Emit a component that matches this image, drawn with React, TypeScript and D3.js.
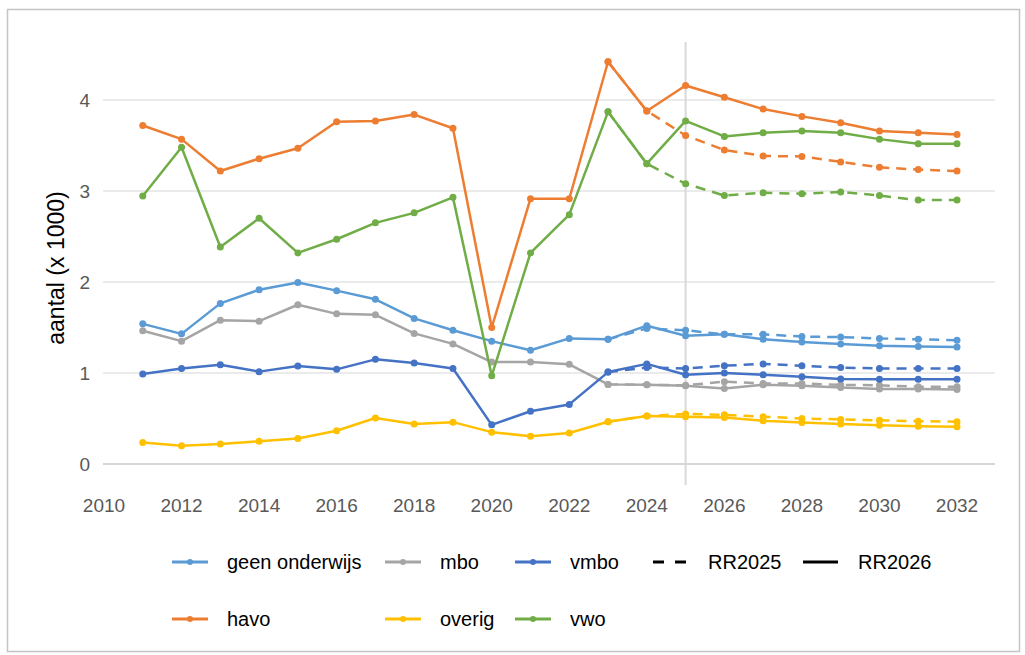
import React from "react";
import * as d3 from "d3";

// realised + RR2026 forecast, 2011..2032
const years = [2011, 2012, 2013, 2014, 2015, 2016, 2017, 2018, 2019, 2020, 2021, 2022, 2023, 2024, 2025, 2026, 2027, 2028, 2029, 2030, 2031, 2032];
// RR2025 forecast, 2023..2032
const yearsRR2025 = [2023, 2024, 2025, 2026, 2027, 2028, 2029, 2030, 2031, 2032];

const geenOnderwijs = [1.54, 1.43, 1.765, 1.915, 1.995, 1.905, 1.81, 1.6, 1.47, 1.35, 1.25, 1.38, 1.37, 1.52, 1.41, 1.425, 1.37, 1.34, 1.32, 1.3, 1.29, 1.285];
const mbo = [1.465, 1.35, 1.58, 1.57, 1.75, 1.65, 1.64, 1.435, 1.32, 1.12, 1.12, 1.095, 0.875, 0.87, 0.86, 0.83, 0.87, 0.86, 0.84, 0.825, 0.825, 0.82];
const vmbo = [0.99, 1.05, 1.09, 1.015, 1.077, 1.04, 1.15, 1.11, 1.05, 0.43, 0.58, 0.655, 1.01, 1.1, 0.98, 1.0, 0.98, 0.96, 0.935, 0.93, 0.93, 0.93];
const havo = [3.72, 3.57, 3.22, 3.355, 3.47, 3.76, 3.77, 3.84, 3.69, 1.5, 2.915, 2.915, 4.42, 3.88, 4.16, 4.03, 3.9, 3.82, 3.75, 3.66, 3.64, 3.62];
const overig = [0.235, 0.2, 0.22, 0.25, 0.28, 0.365, 0.505, 0.44, 0.46, 0.35, 0.305, 0.34, 0.465, 0.527, 0.52, 0.51, 0.475, 0.455, 0.44, 0.425, 0.415, 0.41];
const vwo = [2.945, 3.48, 2.385, 2.7, 2.32, 2.47, 2.65, 2.76, 2.93, 0.97, 2.32, 2.74, 3.87, 3.3, 3.77, 3.6, 3.64, 3.66, 3.64, 3.57, 3.52, 3.52];

const geenOnderwijsRR2025 = [1.37, 1.49, 1.47, 1.425, 1.425, 1.4, 1.395, 1.38, 1.37, 1.36];
const mboRR2025 = [0.875, 0.87, 0.865, 0.905, 0.885, 0.885, 0.87, 0.865, 0.85, 0.85];
const vmboRR2025 = [1.01, 1.06, 1.05, 1.08, 1.1, 1.08, 1.06, 1.05, 1.05, 1.05];
const havoRR2025 = [4.42, 3.88, 3.61, 3.45, 3.385, 3.38, 3.32, 3.26, 3.235, 3.22];
const overigRR2025 = [0.465, 0.527, 0.55, 0.54, 0.52, 0.5, 0.49, 0.48, 0.47, 0.465];
const vwoRR2025 = [3.87, 3.3, 3.08, 2.95, 2.98, 2.97, 2.99, 2.95, 2.9, 2.9];

const xTicks = [2010, 2012, 2014, 2016, 2018, 2020, 2022, 2024, 2026, 2028, 2030, 2032];
const yTicks = [0, 1, 2, 3, 4];

const series = [
  { name: "geen onderwijs", color: "#5B9BD5", rr2026: geenOnderwijs, rr2025: geenOnderwijsRR2025 },
  { name: "mbo", color: "#A5A5A5", rr2026: mbo, rr2025: mboRR2025 },
  { name: "vmbo", color: "#4472C4", rr2026: vmbo, rr2025: vmboRR2025 },
  { name: "havo", color: "#ED7D31", rr2026: havo, rr2025: havoRR2025 },
  { name: "overig", color: "#FFC000", rr2026: overig, rr2025: overigRR2025 },
  { name: "vwo", color: "#70AD47", rr2026: vwo, rr2025: vwoRR2025 },
];

const FONT = "'Liberation Sans', Arial, sans-serif";

export default function App() {
  const width = 1025;
  const height = 655;

  const x = d3.scaleLinear().domain([2010, 2032]).range([104, 957]);
  const y = d3.scaleLinear().domain([0, 4]).range([464, 100]);

  const line = d3
    .line<[number, number]>()
    .x((d) => x(d[0]))
    .y((d) => y(d[1]));

  const gridX0 = 103;
  const gridX1 = 995;
  const dash = "10,7";

  // legend layout: [column x of sample start, row]
  const legendCols = [172, 385, 515, 653, 803];
  const legendRows = [562, 619];
  const legendItems = [
    { label: "geen onderwijs", color: "#5B9BD5", kind: "series", col: 0, row: 0 },
    { label: "mbo", color: "#A5A5A5", kind: "series", col: 1, row: 0 },
    { label: "vmbo", color: "#4472C4", kind: "series", col: 2, row: 0 },
    { label: "RR2025", color: "#000", kind: "dashed", col: 3, row: 0 },
    { label: "RR2026", color: "#000", kind: "solid", col: 4, row: 0 },
    { label: "havo", color: "#ED7D31", kind: "series", col: 0, row: 1 },
    { label: "overig", color: "#FFC000", kind: "series", col: 1, row: 1 },
    { label: "vwo", color: "#70AD47", kind: "series", col: 2, row: 1 },
  ];

  return (
    <div style={{ position: "absolute", left: 0, top: 0 }}>
      <svg width={width} height={height} style={{ display: "block", fontFamily: FONT }}>
        <rect x={0} y={0} width={width} height={height} fill="#fff" />
        <rect x={7.5} y={9.5} width={1012} height={642} fill="none" stroke="#c4c4c4" strokeWidth={1.5} />

        {/* gridlines */}
        {yTicks.map((t) => (
          <line
            key={t}
            x1={gridX0}
            x2={gridX1}
            y1={y(t)}
            y2={y(t)}
            stroke={t === 0 ? "#d6d6d6" : "#ebebeb"}
            strokeWidth={2}
          />
        ))}

        {/* marker for the 2025 split */}
        <line x1={x(2025)} x2={x(2025)} y1={42} y2={485} stroke="#d9d9d9" strokeWidth={2} />

        {/* y tick labels */}
        {yTicks.map((t) => (
          <text key={t} x={90} y={y(t)} dy="0.36em" textAnchor="end" fontSize={19} fill="#595959">
            {t}
          </text>
        ))}

        {/* x tick labels */}
        {xTicks.map((t) => (
          <text key={t} x={x(t)} y={512} textAnchor="middle" fontSize={19} fill="#595959">
            {t}
          </text>
        ))}

        <text
          transform={`translate(64, 268) rotate(-90)`}
          textAnchor="middle"
          fontSize={23}
          fill="#000"
        >
          aantal (x 1000)
        </text>

        {/* series */}
        {series.map((s) => {
          const solid = years.map((yr, i) => [yr, s.rr2026[i]] as [number, number]);
          const dashed = yearsRR2025.map((yr, i) => [yr, s.rr2025[i]] as [number, number]);
          return (
            <g key={s.name}>
              <path d={line(solid) ?? ""} fill="none" stroke={s.color} strokeWidth={2.5} strokeLinejoin="round" />
              {solid.map((d) => (
                <circle key={d[0]} cx={x(d[0])} cy={y(d[1])} r={3.5} fill={s.color} />
              ))}
              <path d={line(dashed) ?? ""} fill="none" stroke={s.color} strokeWidth={2.5} strokeDasharray={dash} />
              {dashed.map((d) => (
                <circle key={d[0]} cx={x(d[0])} cy={y(d[1])} r={3.5} fill={s.color} />
              ))}
            </g>
          );
        })}

        {/* legend */}
        {legendItems.map((it) => {
          const lx = legendCols[it.col];
          const ly = legendRows[it.row];
          const textX = it.kind === "series" ? lx + 55 : lx + 55;
          return (
            <g key={it.label}>
              {it.kind === "series" && (
                <>
                  <line x1={lx} x2={lx + 36} y1={ly} y2={ly} stroke={it.color} strokeWidth={3} />
                  <circle cx={lx + 18} cy={ly} r={3} fill={it.color} />
                </>
              )}
              {it.kind === "dashed" && (
                <line x1={lx} x2={lx + 33} y1={ly} y2={ly} stroke="#000" strokeWidth={3} strokeDasharray="11,11" />
              )}
              {it.kind === "solid" && (
                <line x1={lx} x2={lx + 35} y1={ly} y2={ly} stroke="#000" strokeWidth={3} />
              )}
              <text x={textX} y={ly} dy="0.35em" fontSize={20} fill="#000">
                {it.label}
              </text>
            </g>
          );
        })}
      </svg>
    </div>
  );
}
